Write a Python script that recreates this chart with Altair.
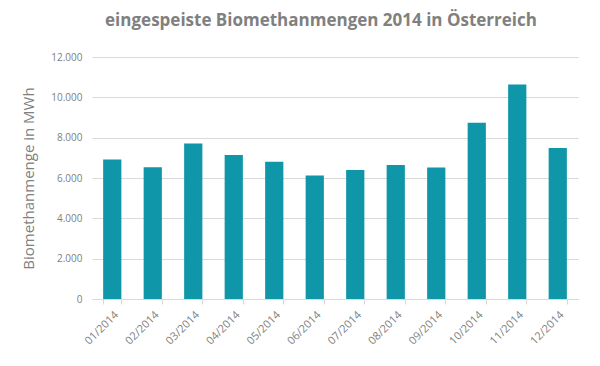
import altair as alt
import pandas as pd

months = ["01/2014", "02/2014", "03/2014", "04/2014", "05/2014", "06/2014",
          "07/2014", "08/2014", "09/2014", "10/2014", "11/2014", "12/2014"]
values = [6920, 6530, 7710, 7140, 6800, 6130, 6400, 6650, 6520, 8740, 10640, 7490]

df = pd.DataFrame({"Monat": months, "MWh": values})

GRAY = "#808080"
FONT = "Open Sans"

chart = alt.Chart(df).mark_bar(color="#0f96a8").encode(
    x=alt.X("Monat:N", sort=months, title=None,
            scale=alt.Scale(paddingInner=0.55, paddingOuter=0.275),
            axis=alt.Axis(labelAngle=-45, labelAlign="right", labelBaseline="middle",
                          labelFontSize=11, labelColor=GRAY, labelFont=FONT,
                          labelPadding=9, labelOffset=4,
                          domainColor="#d9d9d9", tickColor="#d9d9d9", tickSize=5,
                          tickBand="extent", grid=False)),
    y=alt.Y("MWh:Q", title="Biomethanmenge in MWh",
            scale=alt.Scale(domain=[0, 12000]),
            axis=alt.Axis(values=[0, 2000, 4000, 6000, 8000, 10000, 12000],
                          labelExpr="replace(format(datum.value, ',d'), ',', '.')",
                          labelFontSize=10, labelColor=GRAY, labelFont=FONT,
                          labelPadding=10, domain=False, ticks=False,
                          gridColor="#d9d9d9", titleFontSize=15, titleColor=GRAY,
                          titleFont=FONT, titleFontWeight="normal", titlePadding=14)),
).properties(
    width=486, height=242,
    title=alt.TitleParams("eingespeiste Biomethanmengen 2014 in Österreich",
                          fontSize=17, font=FONT, fontWeight="bold", color=GRAY,
                          anchor="middle", dx=-14, offset=22),
    autosize=alt.AutoSizeParams(type="none"),
    padding={"left": 84, "top": 49, "right": 14, "bottom": 59},
).configure_view(stroke=None)

chart.save("out.html", embed_options={"renderer": "svg", "actions": False})
